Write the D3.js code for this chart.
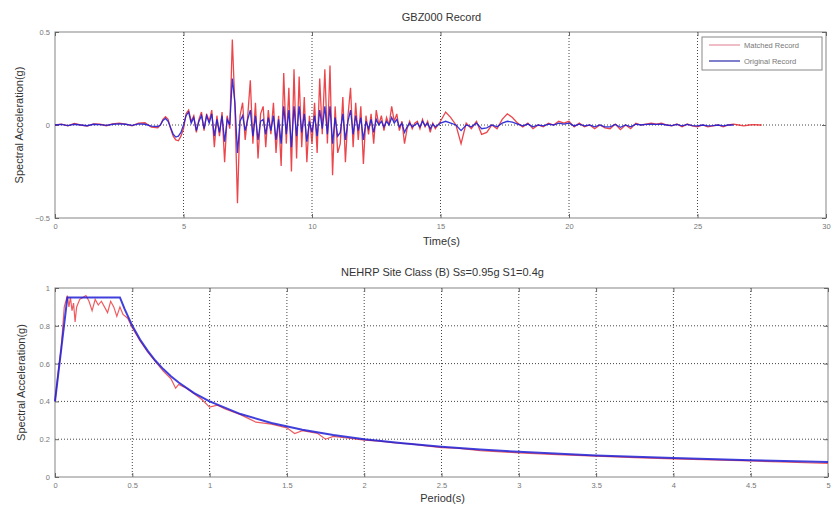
<!DOCTYPE html>
<html>
<head>
<meta charset="utf-8">
<script src="https://cdn.jsdelivr.net/npm/d3@7"></script>
<style>
  html, body { margin: 0; padding: 0; background: #fff; }
  svg { display: block; font-family: "Liberation Sans", Arial, sans-serif; }
</style>
</head>
<body>
<svg id="chart" width="834" height="514"></svg>
<script>
// ---- Acceleration time history (GBZ000) ----
const timeSec = [
  0, 0.25, 0.5, 0.75, 1, 1.25, 1.5, 1.75, 2, 2.25, 2.5, 2.75, 3, 3.25, 3.5, 3.75, 4,
  4.1, 4.2, 4.3, 4.4, 4.5, 4.6, 4.7, 4.8, 4.9, 5,
  5.1, 5.2, 5.3, 5.4, 5.5, 5.6, 5.7, 5.8, 5.9, 6,
  6.1, 6.2, 6.3, 6.4, 6.5, 6.6, 6.7, 6.8, 6.9, 7,
  7.1, 7.2, 7.3, 7.4, 7.5, 7.6, 7.7, 7.8, 7.9, 8,
  8.1, 8.2, 8.3, 8.4, 8.5, 8.6, 8.7, 8.8, 8.9, 9,
  9.1, 9.2, 9.3, 9.4, 9.5, 9.6, 9.7, 9.8, 9.9, 10,
  10.1, 10.2, 10.3, 10.4, 10.5, 10.6, 10.7, 10.8, 10.9, 11,
  11.1, 11.2, 11.3, 11.4, 11.5, 11.6, 11.7, 11.8, 11.9, 12,
  12.1, 12.2, 12.3, 12.4, 12.5, 12.6, 12.7, 12.8, 12.9, 13,
  13.1, 13.2, 13.3, 13.4, 13.5, 13.6, 13.7, 13.8, 13.9, 14,
  14.1, 14.2, 14.3, 14.4, 14.5, 14.6, 14.7, 14.8, 14.9, 15,
  15.2, 15.4, 15.6, 15.8, 16, 16.2, 16.4, 16.6, 16.8, 17,
  17.2, 17.4, 17.6, 17.8, 18, 18.2, 18.4, 18.6, 18.8, 19,
  19.2, 19.4, 19.6, 19.8, 20, 20.2, 20.4, 20.6, 20.8, 21,
  21.2, 21.4, 21.6, 21.8, 22, 22.2, 22.4, 22.6, 22.8, 23,
  23.2, 23.4, 23.6, 23.8, 24, 24.2, 24.4, 24.6, 24.8, 25,
  25.2, 25.4, 25.6, 25.8, 26, 26.2, 26.4, 26.6, 26.8, 27,
  27.2, 27.4, 27.5
];
const matchedAcc = [
  0, 0.005, -0.005, 0.008, 0, -0.006, 0.006, 0.004, -0.004, 0.006, 0.01, 0.005, -0.005, 0.01, 0.012, -0.012, -0.015,
  0.0, 0.03, 0.045, 0.03, -0.02, -0.06, -0.08, -0.085, -0.06, -0.02,
  0.06, 0.08, 0.02, 0.05, -0.04, 0.03, 0.07, -0.03, 0.06, 0.02,
  0.08, -0.12, 0.05, -0.06, 0.07, -0.2, 0.05, -0.02, 0.46, 0.1,
  -0.42, 0.05, 0.12, -0.08, 0.05, 0.24, -0.1, 0.12, -0.18, 0.06,
  0.1, -0.12, 0.08, -0.05, 0.12, -0.15, 0.05, -0.22, 0.28, -0.1,
  0.2, -0.25, 0.3, -0.18, 0.26, -0.12, 0.15, -0.2, 0.05, -0.1,
  0.12, -0.15, 0.25, -0.05, 0.3, -0.1, 0.32, -0.27, 0.1, -0.15,
  -0.1, 0.15, -0.2, 0.05, 0.2, -0.12, 0.12, -0.08, 0.1, -0.21,
  0.05, -0.05, 0.06, -0.1, 0.08, 0.0, 0.05, -0.03, 0.04, 0.0,
  0.1, 0.02, 0.06, -0.03, 0.02, -0.1, -0.02, 0.02, -0.02, 0.01,
  0.02, -0.02, 0.03, -0.01, 0.02, -0.04, 0.01, -0.02, 0.0, 0.02,
  0.07, 0.04, 0.0, -0.1, 0.01, -0.02, 0.02, -0.05, -0.04, 0.0,
  -0.02, 0.03, 0.06, 0.04, 0.01, -0.01, 0.01, -0.02, 0.0, -0.01,
  0.01, 0.0, 0.02, 0.01, 0.02, -0.01, 0.01, -0.01, 0.0, -0.02,
  0.0, -0.015, -0.02, 0.005, -0.025, 0.0, -0.02, 0.01, 0.0, 0.005,
  0.01, 0.005, 0.01, 0.0, -0.005, 0.005, -0.01, 0.005, -0.005, -0.01,
  0.0, -0.01, -0.005, 0.0, -0.01, 0.0, 0.005, 0.0, -0.005, 0.0,
  0.002, 0.0, 0.0
];
const originalAcc = [
  0, 0.003, -0.003, 0.004, 0, -0.004, 0.004, 0.002, -0.002, 0.004, 0.006, 0.004, -0.002, 0.006, 0.004, -0.006, -0.008,
  0.0, 0.025, 0.035, 0.02, -0.015, -0.05, -0.065, -0.06, -0.04, 0.0,
  0.05, 0.07, 0.01, 0.04, -0.03, 0.02, 0.05, -0.02, 0.05, 0.01,
  0.06, -0.06, 0.03, -0.04, 0.05, -0.09, 0.03, 0.0, 0.25, 0.12,
  -0.15, 0.02, 0.05, -0.03, 0.03, 0.08, -0.06, 0.05, -0.08, 0.02,
  0.03, -0.05, 0.04, -0.03, 0.05, -0.08, 0.03, -0.1, 0.1, -0.05,
  0.08, -0.12, 0.1, -0.06, 0.1, -0.04, 0.06, -0.09, 0.02, -0.04,
  0.05, -0.06, 0.08, -0.02, 0.1, -0.05, 0.1, -0.1, 0.04, -0.06,
  -0.04, 0.06, -0.08, 0.02, 0.08, -0.05, 0.05, -0.03, 0.04, -0.08,
  0.02, -0.02, 0.03, -0.04, 0.03, 0.0, 0.02, -0.01, 0.02, 0.0,
  0.04, 0.01, 0.03, -0.01, 0.01, -0.04, -0.01, 0.01, -0.01, 0.0,
  0.01, -0.01, 0.02, -0.005, 0.01, -0.02, 0.005, -0.01, 0.0, 0.01,
  0.02, 0.01, 0.0, -0.03, 0.0, -0.01, 0.01, -0.02, -0.015, 0.0,
  -0.01, 0.01, 0.02, 0.015, 0.005, -0.005, 0.005, -0.01, 0.0, -0.005,
  0.005, 0.0, 0.01, 0.005, 0.01, -0.005, 0.005, -0.005, 0.0, -0.01,
  0.0, -0.01, -0.01, 0.003, -0.012, 0.0, -0.01, 0.005, 0.0, 0.003,
  0.005, 0.003, 0.005, 0.0, -0.003, 0.003, -0.005, 0.003, -0.003, -0.005,
  0.0, -0.005, -0.003, 0.0, -0.005, 0.0, 0.0, null, null, null,
  null, null, null
];

// ---- Response spectra ----
const designPeriod = [0, 0.08, 0.42, 0.45, 0.5, 0.55, 0.6, 0.65, 0.7, 0.75, 0.8, 0.9, 1.0,
  1.2, 1.4, 1.6, 1.8, 2.0, 2.25, 2.5, 2.75, 3.0, 3.5, 4.0, 4.5, 5.0];
const designSa = [0.4, 0.95, 0.95, 0.889, 0.8, 0.727, 0.667, 0.615, 0.571, 0.533, 0.5, 0.444, 0.4,
  0.333, 0.286, 0.25, 0.222, 0.2, 0.178, 0.16, 0.145, 0.133, 0.114, 0.1, 0.089, 0.08];

const matchedPeriod = [0, 0.02, 0.04, 0.06, 0.08, 0.09, 0.1, 0.11, 0.12, 0.13, 0.14, 0.16, 0.18, 0.2,
  0.22, 0.24, 0.26, 0.28, 0.3, 0.32, 0.34, 0.36, 0.38, 0.4, 0.42, 0.44, 0.47, 0.5, 0.55, 0.6,
  0.65, 0.7, 0.75, 0.78, 0.8, 0.85, 0.9, 0.95, 1.0, 1.05, 1.1, 1.2, 1.25, 1.3, 1.4, 1.5, 1.55,
  1.6, 1.7, 1.75, 1.8, 1.9, 2.0, 2.1, 2.2, 2.3, 2.4, 2.5, 2.6, 2.75, 3.0, 3.25, 3.5, 3.75,
  4.0, 4.25, 4.5, 4.75, 5.0];
const matchedSa = [0.4, 0.55, 0.68, 0.9, 0.96, 0.9, 0.95, 0.88, 0.92, 0.82, 0.9, 0.94, 0.95, 0.96,
  0.93, 0.88, 0.94, 0.91, 0.93, 0.9, 0.87, 0.93, 0.9, 0.85, 0.9, 0.86, 0.84, 0.79, 0.72, 0.66,
  0.61, 0.56, 0.52, 0.47, 0.49, 0.47, 0.44, 0.41, 0.37, 0.38, 0.36, 0.33, 0.31, 0.29, 0.28, 0.26, 0.23,
  0.245, 0.23, 0.2, 0.215, 0.205, 0.195, 0.19, 0.18, 0.175, 0.165, 0.155, 0.152, 0.14, 0.128, 0.118, 0.11, 0.102,
  0.096, 0.09, 0.085, 0.078, 0.072];

// ---- Tick values ----
const timeTicks = [0, 5, 10, 15, 20, 25, 30];
const accTicks = [-0.5, 0, 0.5];
const periodTicks = [0, 0.5, 1, 1.5, 2, 2.5, 3, 3.5, 4, 4.5, 5];
const saTicks = [0, 0.2, 0.4, 0.6, 0.8, 1];

const RED = "#e8262b";
const BLUE = "#1f1fd6";
const svg = d3.select("#chart");

function panel(opts) {
  const { x, y, xTicks, yTicks, xGrid, yGrid, title, xLabel, yLabel, titleY, xLabelY, yLabelX } = opts;
  const [x0, x1] = x.range();
  const [y0, y1] = y.range(); // y0 bottom, y1 top
  const g = svg.append("g");

  // dotted grid
  g.selectAll(".vg").data(xGrid).join("line")
    .attr("x1", d => x(d)).attr("x2", d => x(d))
    .attr("y1", y1).attr("y2", y0)
    .attr("stroke", "#444").attr("stroke-width", 1).attr("stroke-dasharray", "1,2");
  g.selectAll(".hg").data(yGrid).join("line")
    .attr("x1", x0).attr("x2", x1)
    .attr("y1", d => y(d)).attr("y2", d => y(d))
    .attr("stroke", "#444").attr("stroke-width", 1).attr("stroke-dasharray", "1,2");

  // frame
  g.append("rect").attr("x", x0).attr("y", y1)
    .attr("width", x1 - x0).attr("height", y0 - y1)
    .attr("fill", "none").attr("stroke", "#999").attr("stroke-width", 1.2);

  // axes with inward ticks
  const xb = g.append("g").attr("transform", `translate(0,${y0})`)
    .call(d3.axisBottom(x).tickValues(xTicks).tickSize(-4).tickPadding(6).tickFormat(d3.format("")));
  const xt = g.append("g").attr("transform", `translate(0,${y1})`)
    .call(d3.axisTop(x).tickValues(xTicks).tickSize(-4).tickFormat(""));
  const yl = g.append("g").attr("transform", `translate(${x0},0)`)
    .call(d3.axisLeft(y).tickValues(yTicks).tickSize(-4).tickPadding(5).tickFormat(d3.format("")));
  const yr = g.append("g").attr("transform", `translate(${x1},0)`)
    .call(d3.axisRight(y).tickValues(yTicks).tickSize(-4).tickFormat(""));
  [xb, xt, yl, yr].forEach(a => {
    a.select(".domain").remove();
    a.selectAll(".tick line").attr("stroke", "#666");
    a.selectAll("text").attr("fill", "#777").attr("font-size", 7.5);
  });

  g.append("text").attr("x", (x0 + x1) / 2 + 1).attr("y", titleY)
    .attr("text-anchor", "middle").attr("font-size", 11).attr("fill", "#333").text(title);
  g.append("text").attr("x", (x0 + x1) / 2 + 1).attr("y", xLabelY)
    .attr("text-anchor", "middle").attr("font-size", 11).attr("fill", "#333").text(xLabel);
  g.append("text")
    .attr("transform", `translate(${yLabelX},${(y0 + y1) / 2}) rotate(-90)`)
    .attr("text-anchor", "middle").attr("font-size", 11).attr("fill", "#333").text(yLabel);
  return g;
}

// ---- Top: acceleration history ----
const xT = d3.scaleLinear().domain([0, 30]).range([55, 826]);
const yT = d3.scaleLinear().domain([-0.5, 0.5]).range([218, 32]);
const gTop = panel({
  x: xT, y: yT, xTicks: timeTicks, yTicks: accTicks,
  xGrid: [5, 10, 15, 20, 25], yGrid: [0],
  title: "GBZ000 Record", xLabel: "Time(s)", yLabel: "Spectral Acceleration(g)",
  titleY: 21, xLabelY: 245, yLabelX: 23
});
const histLine = vals => d3.line()
  .defined((d, i) => vals[i] !== null)
  .x((d, i) => xT(timeSec[i]))
  .y((d, i) => yT(vals[i]))(timeSec);
gTop.append("path").attr("d", histLine(matchedAcc))
  .attr("fill", "none").attr("stroke", RED).attr("stroke-width", 1.3).attr("stroke-opacity", 0.85);
gTop.append("path").attr("d", histLine(originalAcc))
  .attr("fill", "none").attr("stroke", BLUE).attr("stroke-width", 1.3).attr("stroke-opacity", 0.9);

// legend
const lg = gTop.append("g");
lg.append("rect").attr("x", 702).attr("y", 37).attr("width", 120).attr("height", 33)
  .attr("fill", "#fff").attr("stroke", "#888").attr("stroke-width", 1);
const legendItems = [
  { name: "Matched Record", color: "#e89aa8" },
  { name: "Original Record", color: "#3a3ab0" }
];
legendItems.forEach((it, i) => {
  const yy = 45 + i * 16;
  lg.append("line").attr("x1", 709).attr("x2", 740).attr("y1", yy).attr("y2", yy)
    .attr("stroke", it.color).attr("stroke-width", 1.3);
  lg.append("text").attr("x", 744).attr("y", yy + 3).attr("font-size", 7.5)
    .attr("fill", "#777").text(it.name);
});

// ---- Bottom: response spectra ----
const xB = d3.scaleLinear().domain([0, 5]).range([55, 828]);
const yB = d3.scaleLinear().domain([0, 1]).range([477, 288]);
const gBot = panel({
  x: xB, y: yB, xTicks: periodTicks, yTicks: saTicks,
  xGrid: [0.5, 1, 1.5, 2, 2.5, 3, 3.5, 4, 4.5], yGrid: [0.2, 0.4, 0.6, 0.8],
  title: "NEHRP Site Class (B) Ss=0.95g S1=0.4g", xLabel: "Period(s)", yLabel: "Spectral Acceleration(g)",
  titleY: 276, xLabelY: 502, yLabelX: 25
});
gBot.append("path")
  .attr("d", d3.line().x((d, i) => xB(matchedPeriod[i])).y((d, i) => yB(matchedSa[i]))(matchedPeriod))
  .attr("fill", "none").attr("stroke", RED).attr("stroke-width", 1.2).attr("stroke-opacity", 0.75);
gBot.append("path")
  .attr("d", d3.line().x((d, i) => xB(designPeriod[i])).y((d, i) => yB(designSa[i]))(designPeriod))
  .attr("fill", "none").attr("stroke", BLUE).attr("stroke-width", 2).attr("stroke-opacity", 0.85);
</script>
</body>
</html>
